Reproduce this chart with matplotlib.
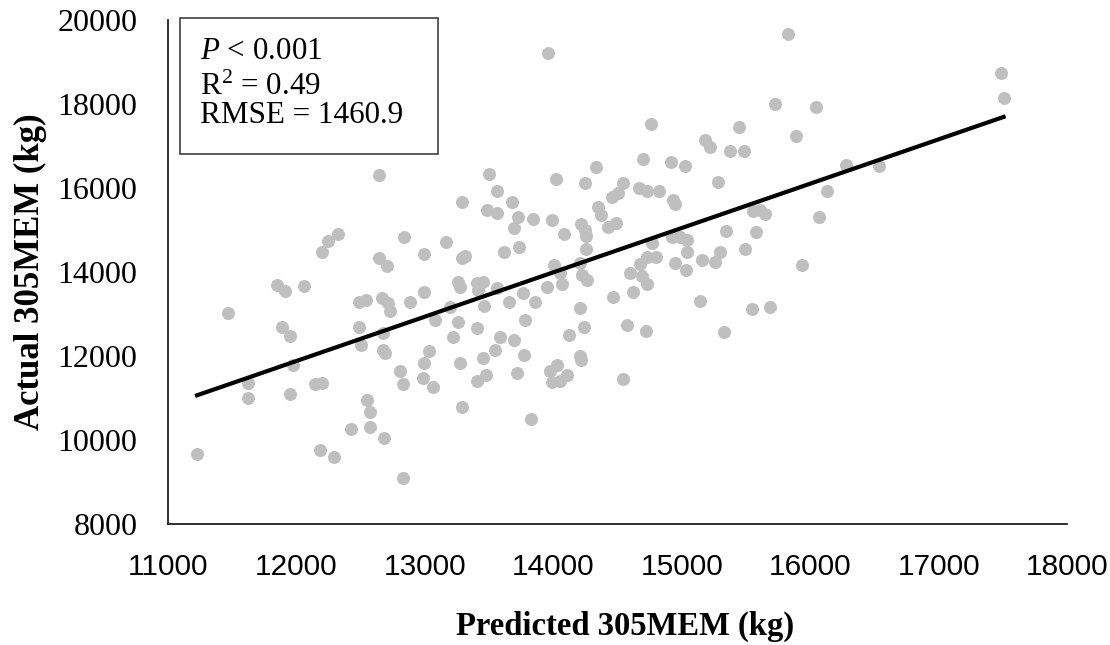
import numpy as np
import matplotlib
matplotlib.use('Agg')
import matplotlib.pyplot as plt
from matplotlib.patches import Rectangle

# predicted vs actual 305MEM (kg)
predicted = [
    11226, 11466, 11625, 11625, 11845, 11910, 11891, 11953, 11950, 11976,
    12059, 12145, 12197, 12184, 12197, 12246, 12321, 12293, 12425, 12488,
    12540, 12488, 12500, 12546, 12573, 12573, 12643, 12643, 12702, 12668,
    12715, 12729, 12677, 12677, 12690, 12682, 12838, 12885, 12807, 12832,
    12832, 12996, 12996, 13035, 12994, 12988, 13066, 13079, 13167, 13196,
    13216, 13258, 13274, 13258, 13274, 13292, 13287, 13287, 13310, 13404,
    13450, 13417, 13461, 13404, 13456, 13477, 13409, 13497, 13480, 13564,
    13559, 13560, 13547, 13586, 13619, 13658, 13675, 13696, 13722, 13731,
    13690, 13720, 13767, 13780, 13775, 13823, 13839, 13858, 13949, 13987,
    14009, 14053, 14066, 14022, 14084, 13975, 14027, 14105, 13993, 14053,
    14123, 14209, 14222, 14261, 14214, 14248, 14255, 14255, 14248, 14204,
    14240, 14209, 14214, 14333, 14351, 14369, 14429, 14489, 14454, 14507,
    14539, 14462, 14545, 14571, 14598, 14624, 14676, 14688, 14727, 14727,
    14801, 14670, 14727, 14823, 14695, 14759, 14766, 14719, 14917, 14933,
    14946, 14921, 14988, 15040, 15044, 14946, 15034, 15026, 15143, 15155,
    15182, 15221, 15285, 15299, 15260, 15330, 15346, 15377, 15449, 15486,
    15494, 15544, 15558, 15611, 15650, 15577, 15688, 15729, 15825, 15887,
    15939, 16049, 16070, 16129, 16277, 16532, 17488, 17506, 13960,
]
actual = [
    9667, 13028, 11364, 10992, 13690, 13548, 12683, 12476, 11088, 11786,
    13674, 11326, 11364, 9762, 14476, 14745, 14898, 9603, 10270, 13278,
    13333, 12698, 12262, 10952, 10674, 10302, 16317, 14341, 14143, 13373,
    13254, 13071, 12555, 12143, 12064, 10048, 14826, 13286, 11643, 11326,
    9095, 14436, 13532, 12110, 11825, 11469, 11254, 12857, 14722, 13175,
    12445, 13769, 13650, 12817, 11841, 10794, 15660, 14340, 14375, 13730,
    13769, 13571, 13198, 12659, 11960, 11548, 11405, 16333, 15476, 15397,
    15936, 13611, 12143, 12460, 14476, 13293, 15659, 15040, 15302, 14603,
    12381, 11587, 13492, 12850, 12024, 10492, 15254, 13278, 13651, 15238,
    14167, 13968, 13714, 16214, 14905, 11643, 11786, 11548, 11388, 11405,
    12500, 14206, 13929, 13810, 15143, 15000, 14857, 14548, 16127, 13135,
    12698, 12000, 11905, 16508, 15540, 15357, 15064, 15159, 15778, 15873,
    16127, 13413, 11445, 12738, 13968, 13516, 14190, 13913, 13706, 14365,
    14365, 15993, 15936, 15929, 16683, 17524, 14682, 12603, 16626, 15714,
    15619, 14841, 14826, 14762, 14484, 14206, 14048, 16524, 13317, 14286,
    17143, 16983, 16135, 14468, 14246, 12563, 14984, 16888, 17460, 16888,
    14540, 13119, 15460, 15476, 15374, 14960, 13160, 17993, 19667, 17246,
    14167, 17921, 15310, 15929, 16540, 16531, 18745, 18150, 19214,
]

x_ticks = [11000, 12000, 13000, 14000, 15000, 16000, 17000, 18000]
y_ticks = [8000, 10000, 12000, 14000, 16000, 18000, 20000]
stats_lines = [r"$\it{P}$ < 0.001", r"R$^2$ = 0.49", "RMSE = 1460.9"]

plt.rcParams['mathtext.fontset'] = 'custom'
plt.rcParams['mathtext.rm'] = 'Liberation Serif'
plt.rcParams['mathtext.it'] = 'Liberation Serif:italic'

x = np.array(predicted)
y = np.array(actual)

fig = plt.figure(figsize=(11.1, 6.45), dpi=100)
ax = fig.add_axes([0.1514, 0.1876, 0.8099, 0.7814])

ax.scatter(x, y, s=88, color="#BFBFBF", linewidths=0, zorder=2)

# linear trendline
slope, intercept = np.polyfit(x, y, 1)
xs = np.array([x.min(), x.max()])
ax.plot(xs, slope * xs + intercept, color="black", lw=3.0, zorder=3)

ax.set_xlim(11000, 18000)
ax.set_ylim(8000, 20000)
ax.set_xticks(x_ticks)
ax.set_yticks(y_ticks)
ax.tick_params(axis='x', length=0, pad=21)
ax.tick_params(axis='y', length=0, pad=22)
for lbl in ax.get_xticklabels():
    lbl.set_fontfamily("Liberation Sans")
    lbl.set_fontsize(21.4)
for lbl in ax.get_yticklabels():
    lbl.set_fontfamily("Liberation Serif")
    lbl.set_fontsize(23)

for side in ["top", "right"]:
    ax.spines[side].set_visible(False)
for side in ["left", "bottom"]:
    ax.spines[side].set_color("#202020")
    ax.spines[side].set_linewidth(1.3)

ax.set_xlabel("Predicted 305MEM (kg)", fontfamily="Liberation Serif",
              fontweight="bold", fontsize=23.5)
ax.set_ylabel("Actual 305MEM (kg)", fontfamily="Liberation Serif",
              fontweight="bold", fontsize=25)
ax.xaxis.set_label_coords(0.508, -0.204)
ax.xaxis.label.set_va("center")
ax.yaxis.set_label_coords(-0.1535, 0.5)
ax.yaxis.label.set_va("center")
ax.yaxis.label.set_ha("center")

# statistics box
ax.add_patch(Rectangle((0.0133, 0.734), 0.287, 0.27, transform=ax.transAxes,
                       facecolor="white", edgecolor="#404040", linewidth=1.2,
                       clip_on=False, zorder=4))
for line, ypos in zip(stats_lines, [0.9226, 0.851, 0.7956]):
    ax.text(0.0356, ypos, line, transform=ax.transAxes,
            fontfamily="Liberation Serif", fontsize=22.4,
            va="baseline", ha="left", zorder=5)

fig.savefig("out.png", dpi=100)
